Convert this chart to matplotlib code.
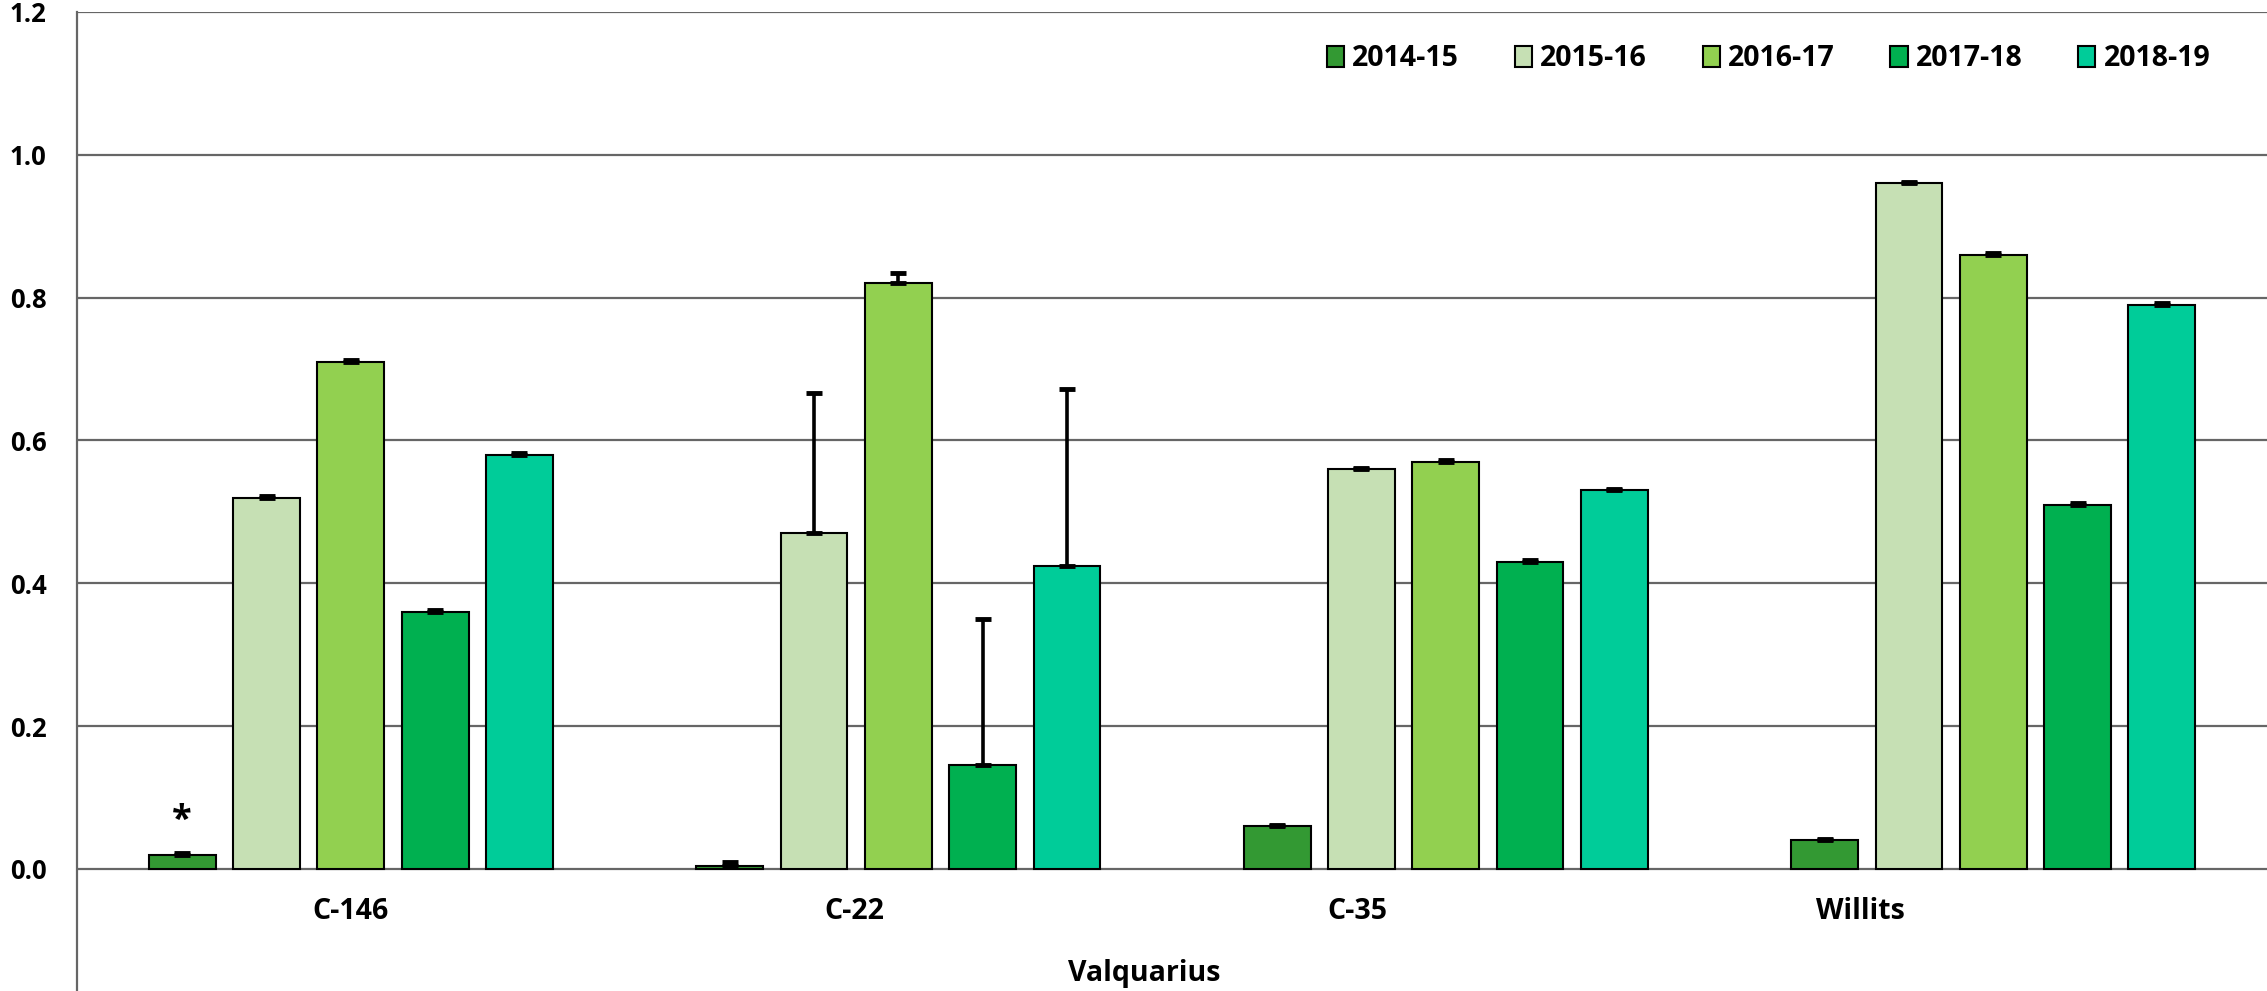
import numpy as np
import matplotlib.pyplot as plt

# data
sites = ["C-146", "C-22", "C-35", "Willits"]
seasons = ["2014-15", "2015-16", "2016-17", "2017-18", "2018-19"]
colors = ["#339933", "#C6E0B4", "#92D050", "#00B050", "#00CC99"]

vals = {
    "2014-15": [0.02, 0.004, 0.06, 0.04],
    "2015-16": [0.52, 0.47, 0.56, 0.96],
    "2016-17": [0.71, 0.82, 0.57, 0.86],
    "2017-18": [0.36, 0.146, 0.43, 0.51],
    "2018-19": [0.58, 0.424, 0.53, 0.79],
}
errs = {
    "2014-15": [0.002, 0.006, 0.002, 0.002],
    "2015-16": [0.002, 0.197, 0.002, 0.002],
    "2016-17": [0.002, 0.014, 0.002, 0.002],
    "2017-18": [0.002, 0.204, 0.002, 0.002],
    "2018-19": [0.002, 0.248, 0.002, 0.002],
}

plt.rcParams['font.family'] = ['Open Sans', 'DejaVu Sans']
plt.rcParams['font.weight'] = 'bold'

fig = plt.figure(figsize=(22.67, 9.91), dpi=100)
ax = fig.add_axes([0.034, 0.0, 0.966, 0.988])

x = np.arange(len(sites))
step = 0.154
width = 0.122
for j, s in enumerate(seasons):
    xs = x + (j - 2) * step
    v = np.array(vals[s])
    e = np.array(errs[s])
    ax.bar(xs, v, width, color=colors[j], edgecolor="black", linewidth=1.5,
           label=s, zorder=3)
    ax.errorbar(xs, v, yerr=[np.zeros_like(e), e], fmt="none", ecolor="black",
                elinewidth=2.6, capsize=5.5, capthick=3.5, zorder=4)

# asterisk above C-146 2014-15
ax.text(x[0] - 2 * step, vals["2014-15"][0] + 0.022, "*", ha="center",
        va="bottom", fontsize=26, fontweight="bold")

ax.set_xlim(-0.5, 3.5)
ax.set_ylim(-0.171, 1.2)
ax.set_yticks(np.arange(0, 1.21, 0.2))
ax.set_yticklabels([f"{t:.1f}" for t in np.arange(0, 1.21, 0.2)], fontsize=18.5,
                   fontweight="bold")
ax.tick_params(axis="y", length=0, pad=22)
ax.set_xticks([])
ax.grid(axis="y", color="#666666", linewidth=1.6, zorder=0)

for sp in ["right", "bottom", "top"]:
    ax.spines[sp].set_visible(False)
ax.spines["left"].set_color("#666666")
ax.spines["left"].set_linewidth(1.6)

# category labels (spaced as in the original)
label_x = np.arange(len(sites)) * 0.919
for lx, name in zip(label_x, sites):
    ax.text(lx, -0.06, name, ha="center", va="center", fontsize=20.5,
            fontweight="bold")
ax.text(1.45, -0.147, "Valquarius", ha="center", va="center", fontsize=20.5,
        fontweight="bold")

leg = ax.legend(ncol=5, loc="upper right", bbox_to_anchor=(0.986, 0.993),
                frameon=False, fontsize=20.5, handlelength=0.6, handleheight=0.8,
                handletextpad=0.3, columnspacing=1.95)
for h in leg.legend_handles:
    h.set_linewidth(1.5)

fig.savefig("out.png", dpi=100)
